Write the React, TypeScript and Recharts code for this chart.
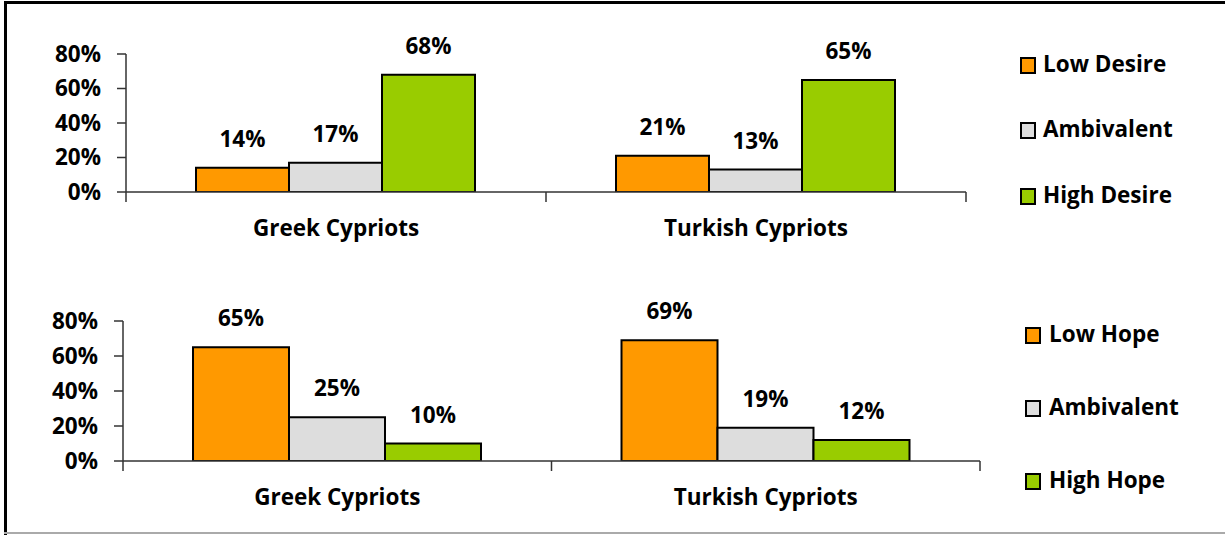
import React from 'react';
import { BarChart, Bar, XAxis, YAxis, LabelList } from 'recharts';

const categories = ['Greek Cypriots', 'Turkish Cypriots'];
const lowDesire = [14, 21];
const ambivalentDesire = [17, 13];
const highDesire = [68, 65];
const lowHope = [65, 69];
const ambivalentHope = [25, 19];
const highHope = [10, 12];
const yTicks = [0, 20, 40, 60, 80];
const desireLabels = ['Low Desire', 'Ambivalent', 'High Desire'];
const hopeLabels = ['Low Hope', 'Ambivalent', 'High Hope'];
const colors = ['#FF9900', '#DDDDDD', '#99CC00'];

const FONT = "'Open Sans', sans-serif";
const FS = 22.5;
const AXIS = '#333333';

const desireData = categories.map((c, i) => ({
  name: c,
  s0: lowDesire[i],
  s1: ambivalentDesire[i],
  s2: highDesire[i],
}));
const hopeData = categories.map((c, i) => ({
  name: c,
  s0: lowHope[i],
  s1: ambivalentHope[i],
  s2: highHope[i],
}));

const CatTick = (props: any) => {
  const { x, y, payload } = props;
  const off = payload?.offset ?? 0;
  const isLast = payload.value === categories[categories.length - 1];
  return (
    <g>
      <line x1={x - off} x2={x - off} y1={y} y2={y + 10} stroke={AXIS} strokeWidth={1.5} />
      {isLast && <line x1={x + off} x2={x + off} y1={y} y2={y + 10} stroke={AXIS} strokeWidth={1.5} />}
      <text
        x={x}
        y={y + 35}
        textAnchor="middle"
        dominantBaseline="central"
        fontFamily={FONT}
        fontWeight="bold"
        fontSize={FS}
        fill="#000"
      >
        {payload.value}
      </text>
    </g>
  );
};

const pct = (v: any) => `${v}%`;

function Panel({ data, yAxisWidth, rightMargin, top, catGap, xHeight }: any) {
  return (
    <div style={{ position: 'absolute', left: 0, top }}>
      <BarChart
        width={1225}
        height={250}
        data={data}
        margin={{ top: 51, right: rightMargin, bottom: 0, left: 0 }}
        barGap={0}
        barCategoryGap={catGap}
      >
        <XAxis
          dataKey="name"
          height={xHeight}
          tickLine={false}
          tickSize={0}
          tickMargin={0}
          axisLine={{ stroke: AXIS, strokeWidth: 1.5 }}
          tick={<CatTick />}
          interval={0}
        />
        <YAxis
          width={yAxisWidth}
          domain={[0, 80]}
          ticks={yTicks}
          interval={0}
          tickFormatter={pct}
          tickSize={9}
          tickMargin={16}
          axisLine={{ stroke: AXIS, strokeWidth: 1.5 }}
          tickLine={{ stroke: AXIS, strokeWidth: 1.5 }}
          tick={{ fontFamily: FONT, fontWeight: 'bold', fontSize: FS, fill: '#000' }}
          allowDataOverflow
        />
        {['s0', 's1', 's2'].map((k, i) => (
          <Bar key={k} dataKey={k} fill={colors[i]} stroke="#000" strokeWidth={2} isAnimationActive={false}>
            <LabelList
              dataKey={k}
              position="top"
              offset={21}
              formatter={pct}
              style={{ fontFamily: FONT, fontWeight: 'bold', fontSize: FS, fill: '#000' }}
            />
          </Bar>
        ))}
      </BarChart>
    </div>
  );
}

function LegendBox({ labels, left, textLeft, centers }: any) {
  return (
    <>
      {labels.map((l: string, i: number) => (
        <div key={l + i}>
          <div
            style={{
              position: 'absolute',
              left,
              top: centers[i] - 8,
              width: 12,
              height: 13,
              background: colors[i],
              border: '2px solid #000',
            }}
          />
          <div
            style={{
              position: 'absolute',
              left: textLeft,
              top: centers[i] - 16,
              height: 30,
              lineHeight: '30px',
              fontFamily: FONT,
              fontWeight: 'bold',
              fontSize: FS,
              color: '#000',
              whiteSpace: 'nowrap',
            }}
          >
            {l}
          </div>
        </div>
      ))}
    </>
  );
}

export default function App() {
  return (
    <div style={{ position: 'absolute', left: 0, top: 0, width: 1225, height: 535, background: '#fff', overflow: 'hidden' }}>
      <div style={{ position: 'absolute', left: 4, top: 1, width: 1221, height: 3, background: '#000' }} />
      <div style={{ position: 'absolute', left: 4, top: 1, width: 3, height: 534, background: '#000' }} />
      <div style={{ position: 'absolute', left: 4, top: 532, width: 1221, height: 2, background: '#aaa' }} />
      <Panel data={desireData} yAxisWidth={126} rightMargin={259} top={3} catGap={70} xHeight={61} />
      <Panel data={hopeData} yAxisWidth={123} rightMargin={245} top={270} catGap={70} xHeight={59} />
      <LegendBox labels={desireLabels} left={1020} textLeft={1043} centers={[65, 130, 196]} />
      <LegendBox labels={hopeLabels} left={1025} textLeft={1049} centers={[335, 408, 481]} />
    </div>
  );
}
